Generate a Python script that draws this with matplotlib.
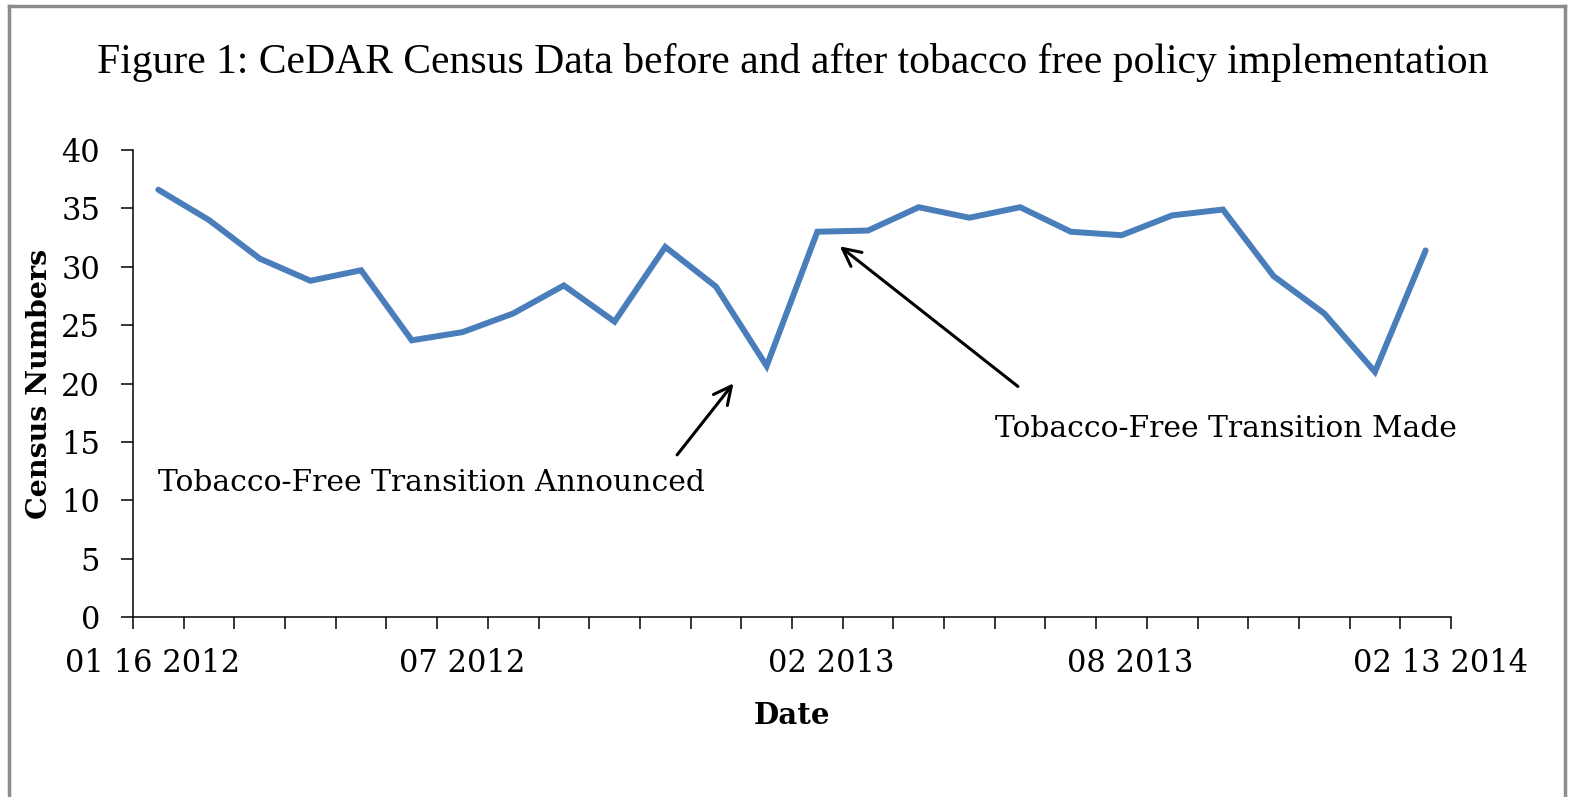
import matplotlib

matplotlib.use("Agg")
import matplotlib.pyplot as plt
from matplotlib.lines import Line2D

# monthly census counts, Jan 2012 - Feb 2014
census = [
    36.6, 34.0, 30.7, 28.8, 29.7, 23.7, 24.4, 26.0, 28.4, 25.3, 31.7, 28.3, 21.5,
    33.0, 33.1, 35.1, 34.2, 35.1, 33.0, 32.7, 34.4, 34.9, 29.2, 26.0, 21.0, 31.4,
]
date_labels = ["01 16 2012", "07 2012", "02 2013", "08 2013", "02 13 2014"]
label_pos = [0.39, 6.49, 13.78, 19.67, 25.8]

title = "Figure 1: CeDAR Census Data before and after tobacco free policy implementation"
note_announced = "Tobacco-Free Transition Announced"
note_made = "Tobacco-Free Transition Made"

body_font = ["DejaVu Serif"]
title_font = ["Liberation Serif"]

fig = plt.figure(figsize=(15.7, 7.97), dpi=100)
ax = fig.add_axes([0.0847, 0.2258, 0.8395, 0.586])

x = [i + 0.5 for i in range(len(census))]
ax.plot(x, census, color="#4a7ebb", linewidth=4.3, solid_capstyle="round",
        solid_joinstyle="miter")

ax.set_xlim(0, len(census))
ax.set_ylim(0, 40)
ax.set_yticks(range(0, 41, 5))
ax.set_xticks(range(len(census) + 1))
ax.set_xticklabels([])
ax.set_xticks(label_pos, minor=True)
ax.set_xticklabels(date_labels, minor=True, family=body_font, fontsize=22)
ax.tick_params(axis="x", which="minor", length=0, pad=22)
ax.tick_params(axis="both", which="major", length=8.6, width=1.1, direction="out")
ax.tick_params(axis="y", pad=15)
for lbl in ax.get_yticklabels():
    lbl.set_family(body_font)
    lbl.set_fontsize(22)

for side in ("top", "right"):
    ax.spines[side].set_visible(False)
for side in ("left", "bottom"):
    ax.spines[side].set_linewidth(1.1)

ax.set_ylabel("Census Numbers", family=body_font, fontsize=20.5, fontweight="bold",
              labelpad=6)
ax.set_xlabel("Date", family=body_font, fontsize=21, fontweight="bold", labelpad=16)

fig.text(0.505, 0.922, title, ha="center", va="center", family=title_font,
         fontsize=30)

arrow = dict(arrowstyle="->", color="black", lw=2.2, mutation_scale=32)
ax.annotate("", xy=(11.88, 20.2), xytext=(10.7, 13.7), arrowprops=arrow)
ax.text(0.5, 11.5, note_announced, ha="left", va="center", family=body_font,
        fontsize=21.4)
ax.annotate("", xy=(13.9, 31.9), xytext=(17.5, 19.6), arrowprops=arrow)
ax.text(17.0, 16.1, note_made, ha="left", va="center", family=body_font,
        fontsize=21.4)

# frame around the whole figure
frame = dict(color="#8c8c8c", linewidth=2.5, transform=fig.transFigure)
fig.add_artist(Line2D([0.006, 0.006], [0.0, 0.992], **frame))
fig.add_artist(Line2D([0.006, 0.997], [0.992, 0.992], **frame))
fig.add_artist(Line2D([0.997, 0.997], [0.0, 0.992], **frame))

fig.savefig("out.png", dpi=100, facecolor="white")
